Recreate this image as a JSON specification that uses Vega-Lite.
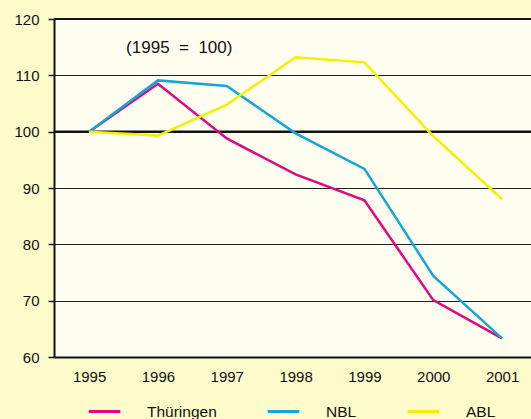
{
  "$schema": "https://vega.github.io/schema/vega-lite/v6.json",
  "width": 477,
  "height": 338,
  "autosize": {"type": "none"},
  "padding": {"left": 54, "top": 19, "right": 0, "bottom": 62},
  "background": "#fefbcb",
  "config": {
    "view": {"fill": "#fffdf0", "stroke": null},
    "font": "Liberation Sans",
    "axis": {"labelFont": "Liberation Sans", "labelFontSize": 15, "labelColor": "#111111"},
    "legend": {"labelFont": "Liberation Sans", "labelFontSize": 15.5, "labelColor": "#111111"}
  },
  "datasets": {
    "series": [
      {"year": 1995, "region": "Thüringen", "value": 100},
      {"year": 1996, "region": "Thüringen", "value": 108.5},
      {"year": 1997, "region": "Thüringen", "value": 98.8},
      {"year": 1998, "region": "Thüringen", "value": 92.4},
      {"year": 1999, "region": "Thüringen", "value": 87.8},
      {"year": 2000, "region": "Thüringen", "value": 70.1},
      {"year": 2001, "region": "Thüringen", "value": 63.3},
      {"year": 1995, "region": "NBL", "value": 100},
      {"year": 1996, "region": "NBL", "value": 109.1},
      {"year": 1997, "region": "NBL", "value": 108.1},
      {"year": 1998, "region": "NBL", "value": 99.7},
      {"year": 1999, "region": "NBL", "value": 93.4},
      {"year": 2000, "region": "NBL", "value": 74.4},
      {"year": 2001, "region": "NBL", "value": 63.3},
      {"year": 1995, "region": "ABL", "value": 100},
      {"year": 1996, "region": "ABL", "value": 99.3},
      {"year": 1997, "region": "ABL", "value": 104.8},
      {"year": 1998, "region": "ABL", "value": 113.2},
      {"year": 1999, "region": "ABL", "value": 112.3},
      {"year": 2000, "region": "ABL", "value": 99.2},
      {"year": 2001, "region": "ABL", "value": 88}
    ],
    "refs": [{"value": 100}, {"value": 120}],
    "note": [{"year": 1996.31, "value": 114.9, "label": "(1995\u00a0 =\u00a0 100)"}]
  },
  "layer": [
    {
      "data": {"name": "refs"},
      "mark": {"type": "rule", "color": "#111111", "strokeWidth": 2.2},
      "encoding": {
        "y": {"field": "value", "type": "quantitative", "scale": {"domain": [60, 120], "nice": false, "zero": false}}
      }
    },
    {
      "data": {"name": "series"},
      "mark": {"type": "line", "strokeWidth": 2.5, "strokeJoin": "miter"},
      "encoding": {
        "x": {
          "field": "year", "type": "quantitative",
          "scale": {"domain": [1994.49, 2001.42], "nice": false, "zero": false},
          "axis": {
            "title": null, "values": [1995, 1996, 1997, 1998, 1999, 2000, 2001],
            "format": "d", "ticks": false, "grid": false,
            "domainColor": "#111111", "domainWidth": 2, "labelPadding": 12
          }
        },
        "y": {
          "field": "value", "type": "quantitative",
          "scale": {"domain": [60, 120], "nice": false, "zero": false},
          "axis": {
            "title": null, "values": [60, 70, 80, 90, 100, 110, 120],
            "tickSize": 6, "tickColor": "#111111", "tickWidth": 1.5,
            "domainColor": "#111111", "domainWidth": 2, "labelPadding": 9,
            "grid": true, "gridColor": "#222222", "gridWidth": 1, "gridOpacity": 1
          }
        },
        "color": {
          "field": "region", "type": "nominal",
          "scale": {"domain": ["Thüringen", "NBL", "ABL"], "range": ["#e3087c", "#12a6dc", "#f7ee00"]},
          "legend": {
            "title": null, "orient": "none", "direction": "horizontal",
            "legendX": 33, "legendY": 375,
            "symbolType": "stroke", "symbolSize": 1000, "symbolStrokeWidth": 3,
            "labelOffset": 25, "columnPadding": 44
          }
        },
        "detail": {"field": "region"}
      }
    },
    {
      "data": {"name": "note"},
      "mark": {"type": "text", "fontSize": 17, "font": "Liberation Sans", "color": "#111111"},
      "encoding": {
        "x": {"field": "year", "type": "quantitative"},
        "y": {"field": "value", "type": "quantitative"},
        "text": {"field": "label"}
      }
    }
  ]
}
